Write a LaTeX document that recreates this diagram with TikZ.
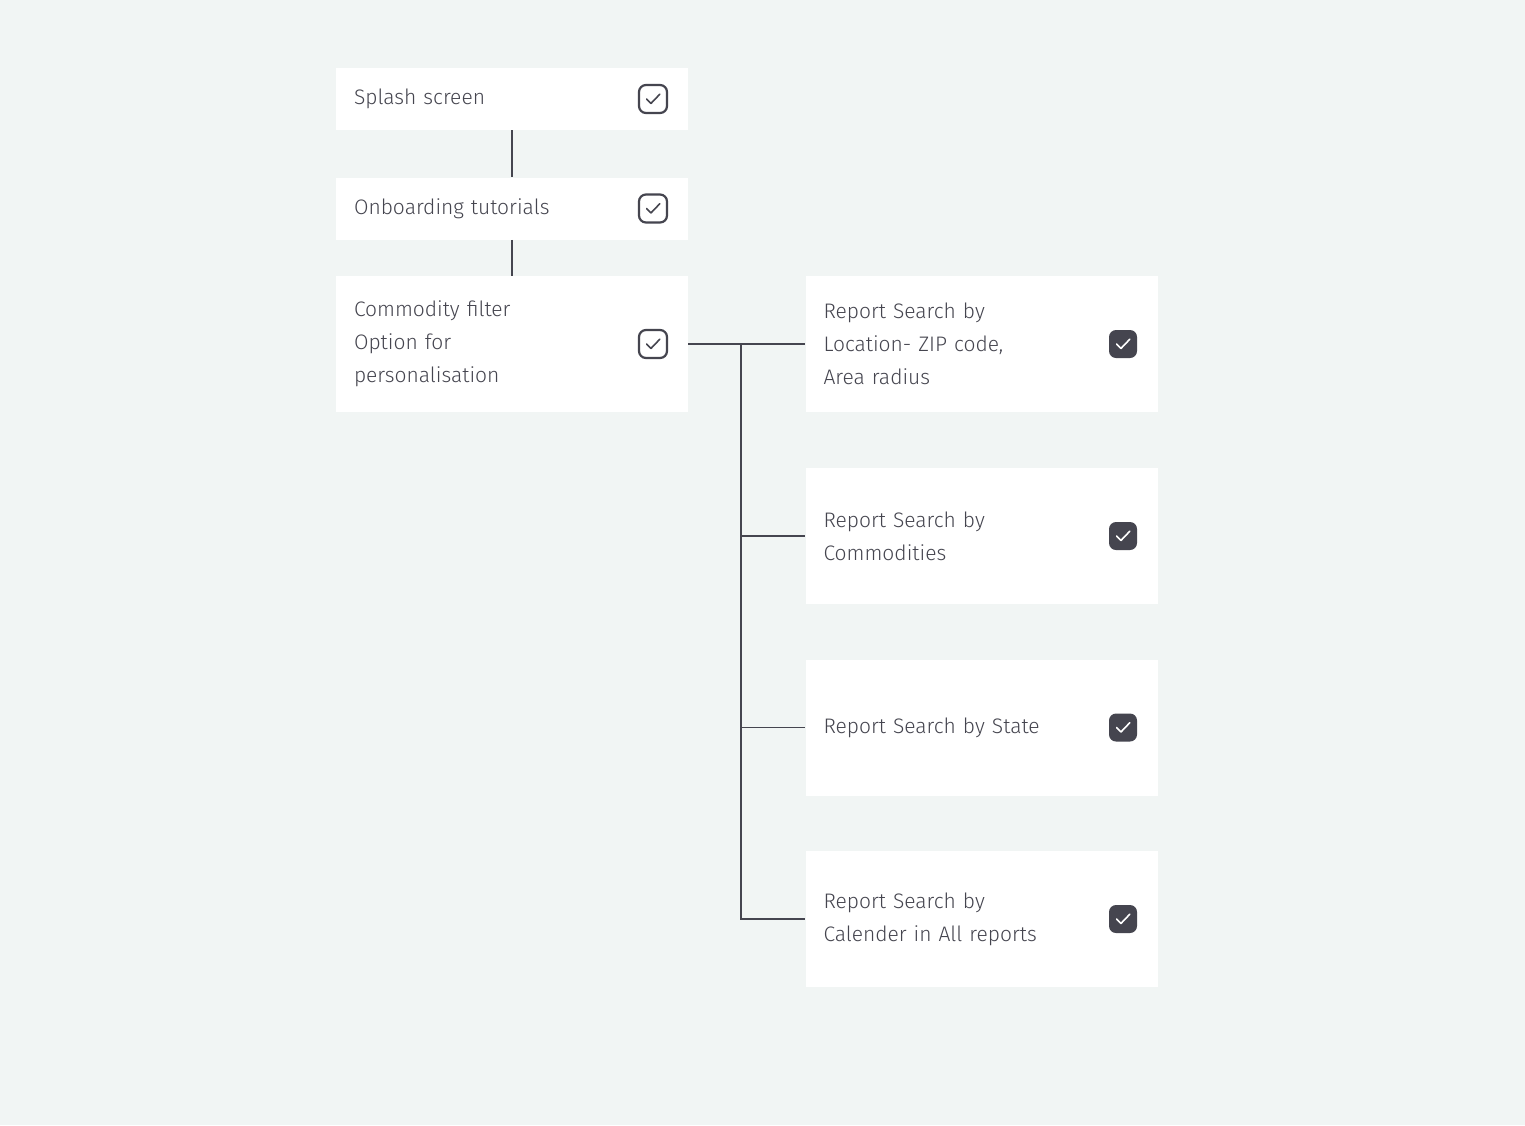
\documentclass[tikz,border=0pt]{standalone}
\usepackage{fontspec}
\setmainfont{Fira Sans Light}
\usetikzlibrary{positioning}
\definecolor{bgcol}{HTML}{F1F5F4}
\definecolor{inkcol}{HTML}{45454F}
\tikzset{
    step box/.style = {
        fill = white,
        minimum width=176pt,
        text width=158pt,
        inner xsep=9pt,
        align=left,
        text=inkcol,
        font=\fontsize{10.5}{16.5}\selectfont,
        },
    short box/.style = {
        step box,
        minimum height=31pt,
        },
    tall box/.style = {
        step box,
        minimum height=68pt,
        },
    check open/.style = {
        draw=inkcol,
        line width=1.1pt,
        rounded corners=3.5pt,
        minimum size=14pt,
        inner sep=0pt,
        },
    check full/.style = {
        fill=inkcol,
        rounded corners=3.5pt,
        minimum size=14pt,
        inner sep=0pt,
        },
    link/.style = {
        draw=inkcol,
        line width=0.7pt,
        },
}
\newcommand{\tickmark}[2]{%
    \draw[#2, line width=0.8pt, line cap=round, line join=round]
        ([shift={(-3.2pt,0pt)}]#1.center) -- ([shift={(-1pt,-2.2pt)}]#1.center)
        -- ([shift={(3.4pt,2.4pt)}]#1.center);}
\begin{document}
\begin{tikzpicture}[x=0.5pt,y=-0.5pt]
            \fill[bgcol] (0,0) rectangle (1525,1125);
            \useasboundingbox (0,0) rectangle (1525,1125);

            \node[short box] (splash) at (512,99) {Splash screen};
            \node[short box] (onboard) at (512,208.5) {Onboarding tutorials};
            \node[tall box] (filter) at (512,344) {Commodity filter\\Option for\\personalisation};

            \node[tall box] (loc) at (981.5,344) {Report Search by\\Location- ZIP code,\\Area radius};
            \node[tall box] (comm) at (981.5,536) {Report Search by\\Commodities};
            \node[tall box] (state) at (981.5,727.5) {Report Search by State};
            \node[tall box] (cal) at (981.5,919) {Report Search by\\Calender in All reports};

            \node[check open] (c1) at (653,99) {};
            \node[check open] (c2) at (653,208.5) {};
            \node[check open] (c3) at (653,344) {};
            \node[check full] (c4) at (1123,344) {};
            \node[check full] (c5) at (1123,536) {};
            \node[check full] (c6) at (1123,727.5) {};
            \node[check full] (c7) at (1123,919) {};
            \foreach \c in {c1,c2,c3} {\tickmark{\c}{inkcol}}
            \foreach \c in {c4,c5,c6,c7} {\tickmark{\c}{white}}

            \coordinate (trunk) at (741,344);
            \path[link] (splash) -- (onboard);
            \path[link] (onboard) -- (filter);
            \path[link] (filter) -- (loc);
            \path[link] (trunk) |- (comm);
            \path[link] (trunk) |- (state);
            \path[link] (trunk) |- (cal);
\end{tikzpicture}
\end{document}
